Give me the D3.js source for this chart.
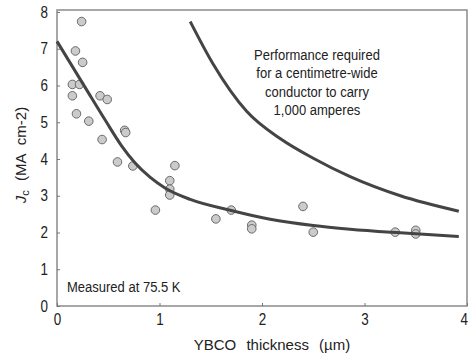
<!DOCTYPE html>
<html>
<head>
<meta charset="utf-8">
<script src="https://cdn.jsdelivr.net/npm/d3@7"></script>
<style>
  body { margin: 0; background: #fff; }
  text { font-family: "Liberation Sans", Arial, sans-serif; fill: #222; }
</style>
</head>
<body>
<div id="chart"></div>
<script>
// measured samples (thickness in µm, Jc in MA cm-2)
let thickness = [0.24, 0.18, 0.25, 0.15, 0.22, 0.15, 0.42, 0.49, 0.19, 0.31, 0.66, 0.67, 0.44,
                 0.59, 0.74, 0.96, 1.15, 1.10, 1.10, 1.10, 1.55, 1.70, 1.90, 1.90, 2.40, 2.50,
                 3.30, 3.50, 3.50];
let jc = [7.74, 6.94, 6.63, 6.03, 6.03, 5.72, 5.72, 5.62, 5.23, 5.03, 4.78, 4.72, 4.53,
          3.92, 3.81, 2.61, 3.82, 3.41, 3.18, 3.02, 2.37, 2.61, 2.20, 2.10, 2.71, 2.01,
          2.01, 2.06, 1.96];

// fitted trend through the samples
let fitX = [0, 0.27, 0.47, 0.63, 0.76, 0.91, 1.05, 1.3, 1.7, 2.08, 2.5, 2.86, 3.35, 3.92];
let fitY = [7.2, 5.97, 5.06, 4.36, 3.9, 3.5, 3.22, 2.9, 2.6, 2.36, 2.19, 2.09, 1.99, 1.89];

// required performance curve
let reqX = [1.3, 1.52, 1.85, 2.18, 2.5, 2.86, 3.35, 3.92];
let reqY = [7.74, 6.6, 5.3, 4.55, 4.02, 3.52, 3.0, 2.58];

let xTicks = [0, 1, 2, 3, 4];
let yTicks = [0, 1, 2, 3, 4, 5, 6, 7, 8];
let noteLines = ['Performance required', 'for a centimetre-wide', 'conductor to carry', '1,000 amperes'];

let width = 470, height = 356;
let margin = {left: 57, right: 3, top: 12, bottom: 50};
let narrow = 0.84; // condensed look of the original type

let svg = d3.select('#chart').append('svg')
  .attr('width', width).attr('height', height);

let x = d3.scaleLinear().domain([0, 4]).range([margin.left, width - margin.right]);
let y = d3.scaleLinear().domain([0, 8]).range([height - margin.bottom, margin.top]);

// frame
svg.append('rect')
  .attr('x', x(0)).attr('y', y(8) - 2)
  .attr('width', x(4) - x(0)).attr('height', y(0) - y(8) + 2)
  .attr('fill', 'none').attr('stroke', '#8a8a8a').attr('stroke-width', 1.5);

let xAxis = svg.append('g')
  .attr('transform', 'translate(0,' + y(0) + ')')
  .call(d3.axisBottom(x).tickValues(xTicks).tickSize(-3).tickPadding(8).tickFormat(d3.format('d')));
let yAxis = svg.append('g')
  .attr('transform', 'translate(' + x(0) + ',0)')
  .call(d3.axisLeft(y).tickValues(yTicks).tickSize(-3).tickPadding(9).tickFormat(d3.format('d')));

[xAxis, yAxis].forEach(function(g) {
  g.select('.domain').remove();
  g.selectAll('line').attr('stroke', '#777');
  g.selectAll('text').style('font-size', '16px').attr('fill', '#333')
    .attr('transform', 'scale(' + narrow + ',1)')
    .attr('x', function() { return +d3.select(this).attr('x') / narrow; });
});
// last x label sits on the right edge
xAxis.selectAll('.tick').filter(function(d) { return d === 4; })
  .select('text').attr('dx', -4);

let line = d3.line()
  .x(function(d) { return x(d[0]); })
  .y(function(d) { return y(d[1]); })
  .curve(d3.curveMonotoneX);

svg.append('path')
  .datum(d3.zip(reqX, reqY))
  .attr('d', line)
  .attr('fill', 'none').attr('stroke', '#444').attr('stroke-width', 3);

svg.selectAll('circle')
  .data(d3.zip(thickness, jc))
  .enter().append('circle')
  .attr('cx', function(d) { return x(d[0]); })
  .attr('cy', function(d) { return y(d[1]); })
  .attr('r', 4.3)
  .attr('fill', '#cbcbcb')
  .attr('stroke', '#6a6a6a')
  .attr('stroke-width', 1);

svg.append('path')
  .datum(d3.zip(fitX, fitY))
  .attr('d', line)
  .attr('fill', 'none').attr('stroke', '#444').attr('stroke-width', 3);

// annotation
svg.append('g').selectAll('text')
  .data(noteLines)
  .enter().append('text')
  .attr('transform', function(d, i) { return 'translate(317,' + (60 + i * 18.3) + ') scale(' + narrow + ',1)'; })
  .attr('text-anchor', 'middle')
  .style('font-size', '15.5px')
  .text(function(d) { return d; });

svg.append('text')
  .attr('transform', 'translate(67,292) scale(' + narrow + ',1)')
  .style('font-size', '15.5px')
  .text('Measured at 75.5 K');

// axis titles
svg.append('text')
  .attr('x', 272).attr('y', 350)
  .attr('text-anchor', 'middle')
  .style('font-size', '15px')
  .style('word-spacing', '6px')
  .text('YBCO thickness (\u00b5m)');

let yl = svg.append('text')
  .attr('transform', 'translate(26,155) rotate(-90)')
  .attr('text-anchor', 'middle')
  .style('font-size', '15px');
yl.append('tspan').style('font-style', 'italic').text('J');
yl.append('tspan').attr('dy', 3).style('font-size', '11px').text('c');
yl.append('tspan').attr('dy', -3).style('word-spacing', '5px').text(' (MA cm-2)');
</script>
</body>
</html>
